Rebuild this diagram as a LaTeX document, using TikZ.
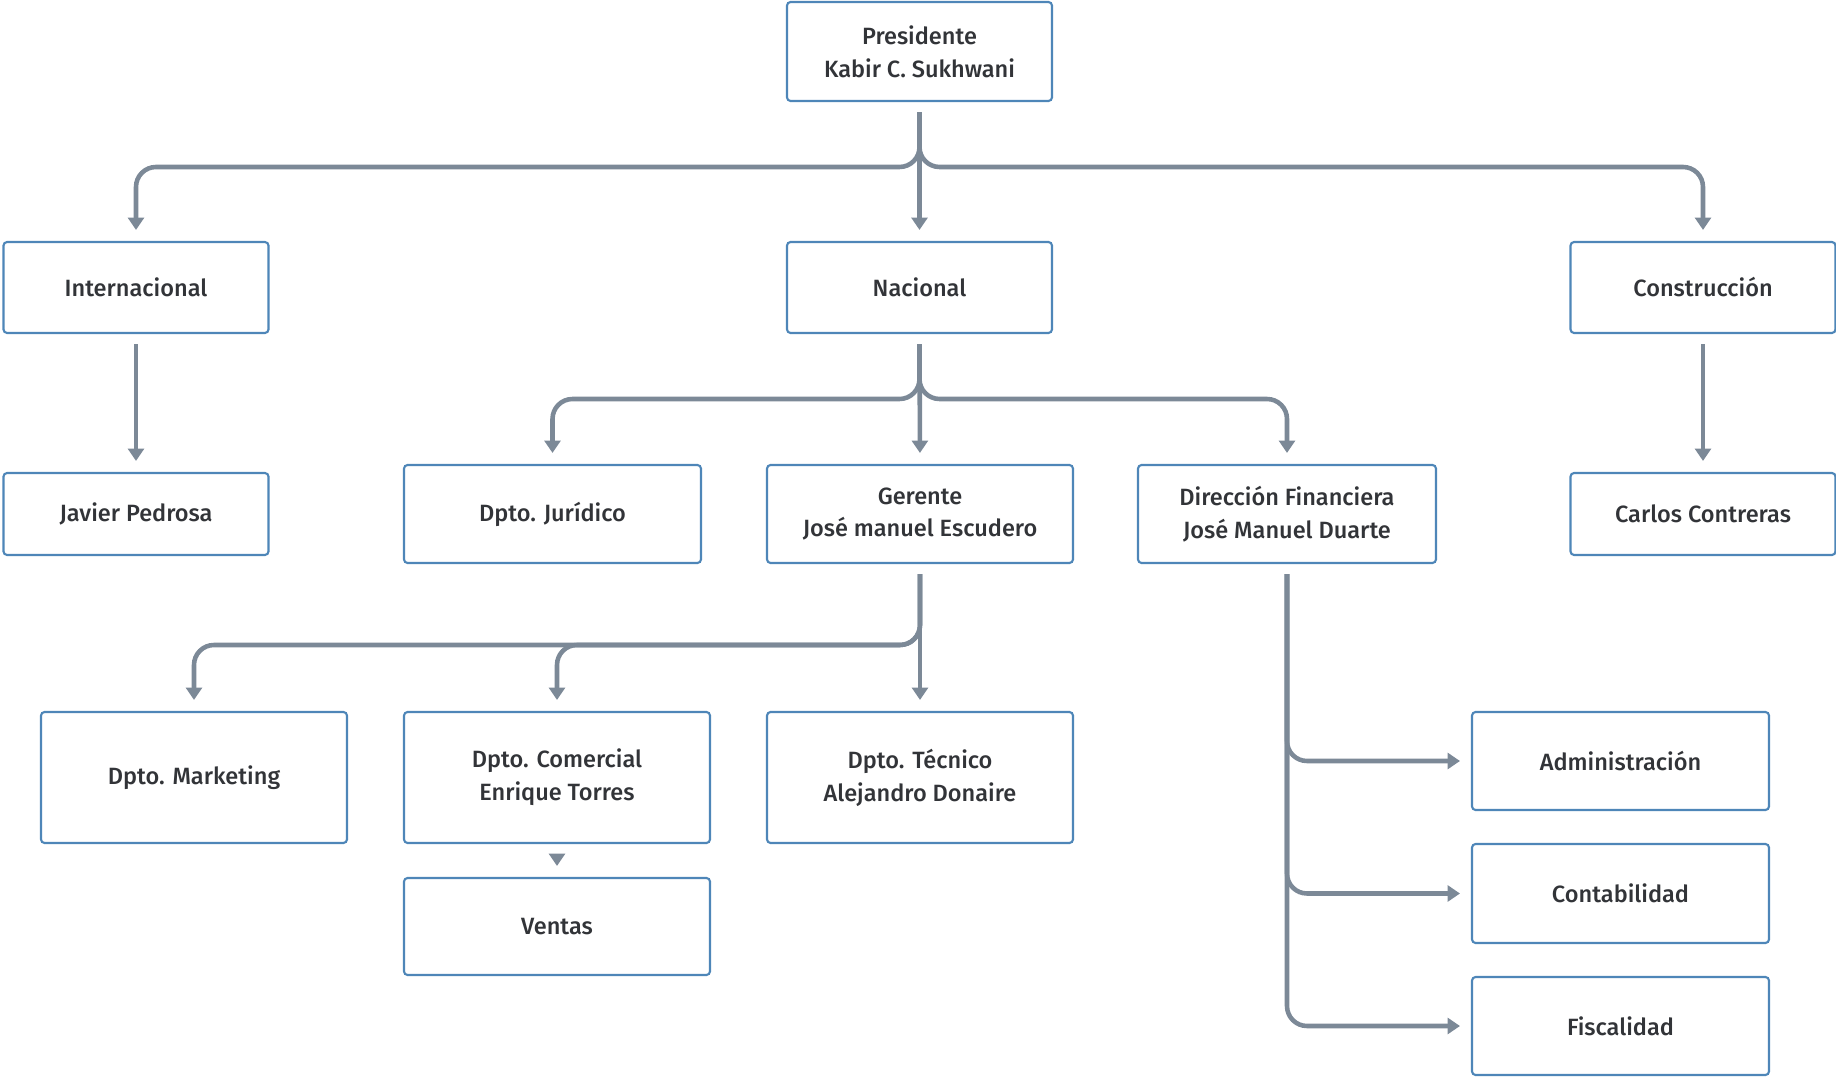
\documentclass[tikz,border=0pt]{standalone}
\usepackage{fontspec}
\setmainfont{Fira Sans}[UprightFont=* Medium]
\usetikzlibrary{arrows.meta,calc}
\definecolor{linkgray}{RGB}{124,137,151}
\definecolor{boxblue}{RGB}{78,134,184}
\definecolor{textgray}{RGB}{50,52,56}

\begin{document}
\begin{tikzpicture}[x=0.02cm, y=-0.02cm,
  every node/.style={font=\fontsize{13.4}{18.7}\selectfont, text=textgray, align=center},
  unit/.style={draw=boxblue, line width=1.2pt, rounded corners=2pt, fill=white, inner sep=0pt,
    minimum width=5.3cm, minimum height=1.82cm},
  link/.style={draw=linkgray, line width=2.6pt, rounded corners=0.4cm,
    -{Triangle[width=9pt,length=7pt]}, shorten <=0.2cm, shorten >=0.22cm}]
  \useasboundingbox (0,0) rectangle (1836,1077);
  \coordinate (bus1) at (0,167);
  \coordinate (bus2) at (0,399);
  \coordinate (bus3) at (0,645);
  \node[unit, minimum height=1.98cm] (pres) at (919.5,51.5) {Presidente\\Kabir C. Sukhwani};
  \node[unit] (intl) at (136,287.5) {Internacional};
  \node[unit] (nac) at (919.5,287.5) {Nacional};
  \node[unit] (cons) at (1703,287.5) {Construcción};
  \node[unit, minimum height=1.64cm] (javier) at (136,514) {Javier Pedrosa};
  \node[unit, minimum height=1.64cm] (carlos) at (1703,514) {Carlos Contreras};
  \node[unit, minimum width=5.94cm, minimum height=1.96cm] (jur) at (552.5,514) {Dpto. Jurídico};
  \node[unit, minimum width=6.12cm, minimum height=1.96cm] (ger) at (920,514) {Gerente\\José manuel Escudero};
  \node[unit, minimum width=5.96cm, minimum height=1.96cm] (fin) at (1287,514) {Dirección Financiera\\José Manuel Duarte};
  \node[unit, minimum width=6.12cm, minimum height=2.62cm] (mkt) at (194,777.5) {Dpto. Marketing};
  \node[unit, minimum width=6.12cm, minimum height=2.62cm] (com) at (557,777.5) {Dpto. Comercial\\Enrique Torres};
  \node[unit, minimum width=6.12cm, minimum height=2.62cm] (tec) at (920,777.5) {Dpto. Técnico\\Alejandro Donaire};
  \node[unit, minimum width=6.12cm, minimum height=1.94cm] (ventas) at (557,926.5) {Ventas};
  \node[unit, minimum width=5.94cm, minimum height=1.96cm] (adm) at (1620.5,761) {Administración};
  \node[unit, minimum width=5.94cm, minimum height=1.98cm] (cont) at (1620.5,893.5) {Contabilidad};
  \node[unit, minimum width=5.94cm, minimum height=1.96cm] (fisc) at (1620.5,1026) {Fiscalidad};
  \draw[link] (pres.south) -- (nac.north);
  \foreach \t in {intl,cons} \draw[link] (pres.south) |- (bus1 -| \t) -- (\t.north);
  \draw[link] (intl.south) -- (javier.north);
  \draw[link] (cons.south) -- (carlos.north);
  \draw[link] (nac.south) -- (ger.north);
  \foreach \t in {jur,fin} \draw[link] (nac.south) |- (bus2 -| \t) -- (\t.north);
  \draw[link] (ger.south) -- (tec.north);
  \foreach \t in {mkt,com} \draw[link] (ger.south) |- (bus3 -| \t) -- (\t.north);
  \draw[link] (com.south) -- (ventas.north);
  \foreach \t in {adm,cont,fisc} \draw[link] (fin.south) |- (\t.west);
\end{tikzpicture}
\end{document}
